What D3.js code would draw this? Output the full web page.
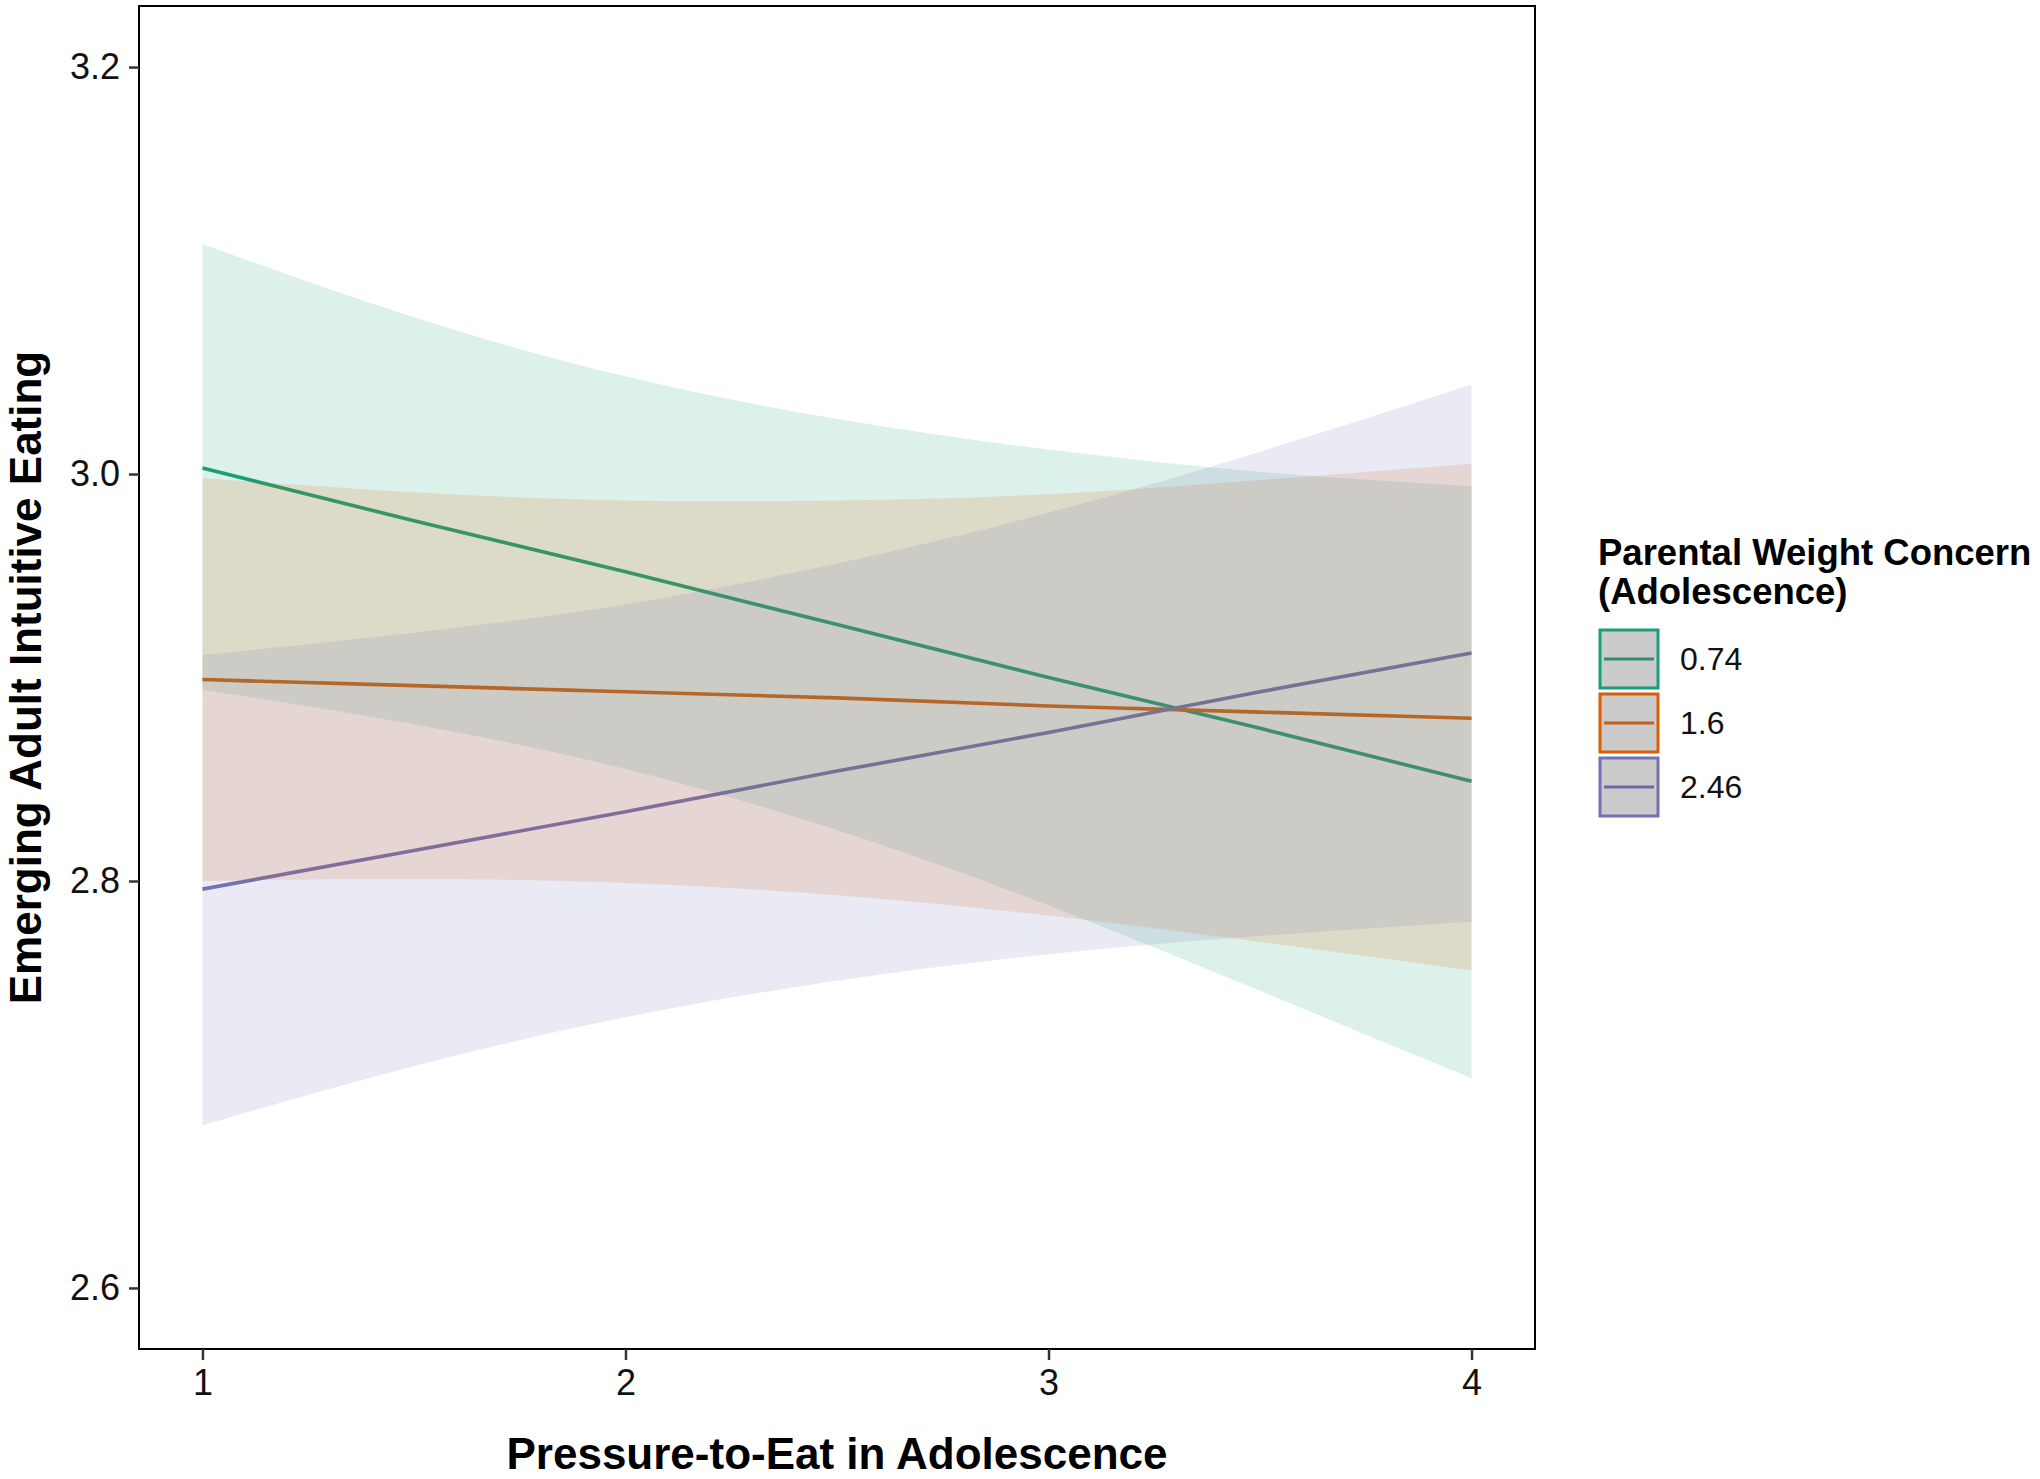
<!DOCTYPE html>
<html>
<head>
<meta charset="utf-8">
<script src="https://cdn.jsdelivr.net/npm/d3@7"></script>
<style>
  html, body { margin: 0; padding: 0; background: #ffffff; }
  svg { display: block; }
  text { font-family: "Liberation Sans", Arial, Helvetica, sans-serif; }
</style>
</head>
<body>
<svg id="chart" width="2040" height="1479"></svg>
<script>
// ---------------- DATA ----------------
const xValues = [1, 1.5, 2, 2.5, 3, 3.5, 4];
const groupLabels = ["0.74", "1.6", "2.46"];
const groupColors = ["#1B9E77", "#D95F02", "#7570B3"];
const keyLineColors = ["#2f8d6c", "#c3611a", "#6e68a8"];

// Fitted values
const fit074 = [3.003, 2.977, 2.952, 2.926, 2.900, 2.875, 2.849];
const fit16  = [2.899, 2.896, 2.893, 2.890, 2.886, 2.883, 2.880];
const fit246 = [2.796, 2.815, 2.834, 2.854, 2.873, 2.893, 2.912];

// Confidence band upper limits
const upper074 = [3.113, 3.077, 3.048, 3.027, 3.012, 3.001, 2.994];
const upper16  = [2.998, 2.991, 2.987, 2.987, 2.990, 2.997, 3.005];
const upper246 = [2.911, 2.922, 2.936, 2.956, 2.981, 3.011, 3.044];

// Confidence band lower limits
const lower074 = [2.894, 2.877, 2.855, 2.825, 2.788, 2.746, 2.703];
const lower16  = [2.800, 2.801, 2.799, 2.793, 2.783, 2.770, 2.756];
const lower246 = [2.680, 2.709, 2.733, 2.751, 2.764, 2.773, 2.780];

const xTicks = [1, 2, 3, 4];
const yTicks = [2.6, 2.8, 3.0, 3.2];

const xTitle = "Pressure-to-Eat in Adolescence";
const yTitle = "Emerging Adult Intuitive Eating";
const legendTitle = ["Parental Weight Concern", "(Adolescence)"];

// ---------------- LAYOUT ----------------
const panel = { left: 139, right: 1535, top: 6, bottom: 1349 };
const svg = d3.select("#chart");

const x = d3.scaleLinear().domain([0.85, 4.15]).range([panel.left, panel.right]);
const y = d3.scaleLinear().domain([2.57, 3.23]).range([panel.bottom, panel.top]);

const series = [
  { label: groupLabels[0], color: groupColors[0], fit: fit074, upper: upper074, lower: lower074 },
  { label: groupLabels[1], color: groupColors[1], fit: fit16,  upper: upper16,  lower: lower16 },
  { label: groupLabels[2], color: groupColors[2], fit: fit246, upper: upper246, lower: lower246 }
];

const plot = svg.append("g");

// lines (drawn first, ribbons overlay them)
const line = d3.line()
  .x(d => x(d.x)).y(d => y(d.v));
series.forEach(s => {
  const pts = xValues.map((xv, i) => ({ x: xv, v: s.fit[i] }));
  plot.append("path")
    .attr("d", line(pts))
    .attr("fill", "none")
    .attr("stroke", s.color)
    .attr("stroke-width", 3.6);
});

// ribbons
const area = d3.area()
  .x(d => x(d.x)).y0(d => y(d.lo)).y1(d => y(d.hi))
  .curve(d3.curveNatural);
series.forEach(s => {
  const pts = xValues.map((xv, i) => ({ x: xv, lo: s.lower[i], hi: s.upper[i] }));
  plot.append("path")
    .attr("d", area(pts))
    .attr("fill", s.color)
    .attr("fill-opacity", 0.15)
    .attr("stroke", "none");
});

// panel border
svg.append("rect")
  .attr("x", panel.left).attr("y", panel.top)
  .attr("width", panel.right - panel.left)
  .attr("height", panel.bottom - panel.top)
  .attr("fill", "none")
  .attr("stroke", "#000")
  .attr("stroke-width", 2);

// axes
const xAxis = d3.axisBottom(x).tickValues(xTicks).tickFormat(d3.format("d"))
  .tickSize(11).tickPadding(9);
const gx = svg.append("g").attr("transform", `translate(0,${panel.bottom})`).call(xAxis);
gx.select(".domain").remove();
gx.selectAll(".tick line").attr("stroke", "#333").attr("stroke-width", 2.5);
gx.selectAll(".tick text").attr("font-size", 36).attr("fill", "#111")
  .attr("font-family", "Liberation Sans, Arial, sans-serif");

const yAxis = d3.axisLeft(y).tickValues(yTicks).tickFormat(d3.format(".1f"))
  .tickSize(10).tickPadding(9);
const gy = svg.append("g").attr("transform", `translate(${panel.left},0)`).call(yAxis);
gy.select(".domain").remove();
gy.selectAll(".tick line").attr("stroke", "#333").attr("stroke-width", 2.5);
gy.selectAll(".tick text").attr("font-size", 36).attr("fill", "#111")
  .attr("font-family", "Liberation Sans, Arial, sans-serif");

// axis titles
svg.append("text")
  .attr("x", (panel.left + panel.right) / 2)
  .attr("y", 1469)
  .attr("text-anchor", "middle")
  .attr("font-size", 44)
  .attr("font-weight", "bold")
  .attr("fill", "#000")
  .text(xTitle);

svg.append("text")
  .attr("transform", `translate(41,${(panel.top + panel.bottom) / 2}) rotate(-90)`)
  .attr("text-anchor", "middle")
  .attr("font-size", 44)
  .attr("font-weight", "bold")
  .attr("fill", "#000")
  .text(yTitle);

// legend
const lg = svg.append("g");
lg.append("text").attr("x", 1598).attr("y", 565)
  .attr("font-size", 36.5).attr("font-weight", "bold").attr("fill", "#000")
  .text(legendTitle[0]);
lg.append("text").attr("x", 1598).attr("y", 604)
  .attr("font-size", 36.5).attr("font-weight", "bold").attr("fill", "#000")
  .text(legendTitle[1]);

const keyTop = 630, keyStep = 64, keySize = 58, keyLeft = 1600;
series.forEach((s, i) => {
  const ky = keyTop + i * keyStep;
  lg.append("rect")
    .attr("x", keyLeft).attr("y", ky)
    .attr("width", keySize).attr("height", keySize)
    .attr("fill", "#cbcbcb")
    .attr("stroke", s.color)
    .attr("stroke-width", 3);
  lg.append("line")
    .attr("x1", keyLeft + 4).attr("x2", keyLeft + keySize - 4)
    .attr("y1", ky + keySize / 2).attr("y2", ky + keySize / 2)
    .attr("stroke", keyLineColors[i])
    .attr("stroke-width", 3);
  lg.append("text")
    .attr("x", 1680).attr("y", ky + keySize / 2 + 11)
    .attr("font-size", 32).attr("fill", "#111")
    .text(s.label);
});
</script>
</body>
</html>
